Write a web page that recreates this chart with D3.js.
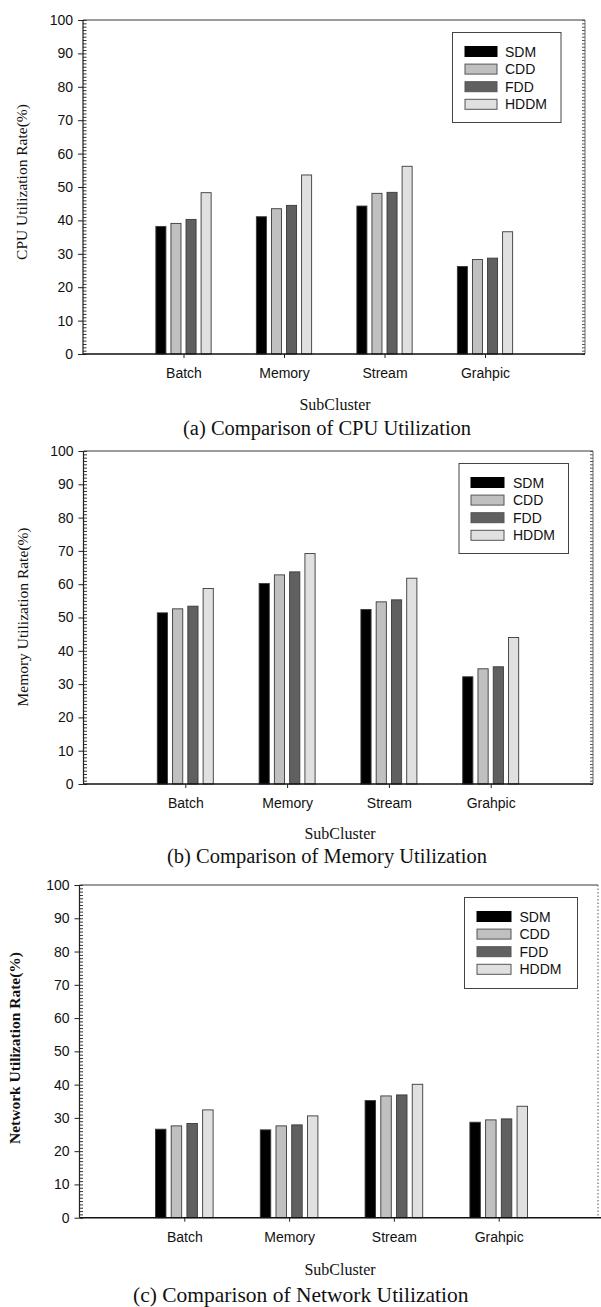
<!DOCTYPE html>
<html>
<head>
<meta charset="utf-8">
<script src="https://cdn.jsdelivr.net/npm/d3@7"></script>
<style>
  body { margin: 0; background: #fff; }
  svg { display: block; }
  .tick text { font-family: "Liberation Sans", Arial, sans-serif; font-size: 14px; fill: #111; }
  .serif { font-family: "Liberation Serif", "Times New Roman", serif; fill: #111; }
  .sans { font-family: "Liberation Sans", Arial, sans-serif; fill: #111; }
</style>
</head>
<body>
<svg id="chart" width="601" height="1307"></svg>
<script>
// data
const categories = ["Batch", "Memory", "Stream", "Grahpic"];
const methods = ["SDM", "CDD", "FDD", "HDDM"];
const methodColors = ["#000000", "#c0c0c0", "#606060", "#e0e0e0"];
const yTicks = [0, 10, 20, 30, 40, 50, 60, 70, 80, 90, 100];

const cpuSDM = [38.2, 41.1, 44.3, 26.2];
const cpuCDD = [39.1, 43.5, 48.1, 28.3];
const cpuFDD = [40.3, 44.5, 48.4, 28.7];
const cpuHDDM = [48.3, 53.6, 56.2, 36.6];

const memSDM = [51.4, 60.2, 52.4, 32.2];
const memCDD = [52.6, 62.8, 54.7, 34.6];
const memFDD = [53.4, 63.7, 55.3, 35.2];
const memHDDM = [58.7, 69.2, 61.8, 44.0];

const netSDM = [26.6, 26.4, 35.2, 28.7];
const netCDD = [27.6, 27.6, 36.6, 29.4];
const netFDD = [28.3, 27.9, 36.9, 29.7];
const netHDDM = [32.4, 30.6, 40.1, 33.5];

const svg = d3.select("#chart");

function drawPanel(cfg) {
  const g = svg.append("g");
  const y = d3.scaleLinear().domain([0, 100]).range([cfg.bottom, cfg.top]);
  const x = d3.scaleLinear().domain([0, 5]).range([cfg.left, cfg.left + 5 * cfg.step]);
  const sub = d3.scaleBand().domain(methods)
    .range([-0.275 * cfg.step, 0.275 * cfg.step]).paddingInner(1 / 3);

  // frame: top line, right side
  g.append("line")
    .attr("x1", cfg.left).attr("x2", cfg.right)
    .attr("y1", y(100)).attr("y2", y(100))
    .attr("stroke", "#7a7a7a").attr("stroke-width", 1.5);

  if (cfg.dottedRight) {
    g.append("line")
      .attr("x1", cfg.right).attr("x2", cfg.right)
      .attr("y1", y(100)).attr("y2", y(0))
      .attr("stroke", "#555").attr("stroke-width", 1)
      .attr("stroke-dasharray", "1.5,2");
  } else {
    g.append("line")
      .attr("x1", cfg.right).attr("x2", cfg.right)
      .attr("y1", y(100)).attr("y2", y(0))
      .attr("stroke", "#666").attr("stroke-width", 1);
    const rightMinor = g.append("g")
      .attr("transform", `translate(${cfg.right},0)`)
      .call(d3.axisLeft(y).ticks(100).tickSize(3).tickFormat(""));
    rightMinor.select(".domain").remove();
    rightMinor.selectAll("line").attr("stroke", "#555");
  }

  // bars
  const seriesRows = cfg.series;
  methods.forEach((m, mi) => {
    g.append("g").selectAll("rect")
      .data(seriesRows[mi])
      .join("rect")
      .attr("x", (d, ci) => x(ci + 1) + sub(m))
      .attr("y", d => y(d))
      .attr("width", sub.bandwidth())
      .attr("height", d => y(0) - y(d))
      .attr("fill", methodColors[mi])
      .attr("stroke", "#3a3a3a")
      .attr("stroke-width", 0.9);
  });

  // left axis: major ticks outside, minor inside
  const yAxis = g.append("g")
    .attr("transform", `translate(${cfg.left},0)`)
    .call(d3.axisLeft(y).tickValues(yTicks).tickSize(5).tickPadding(5));
  yAxis.select(".domain").remove();
  yAxis.selectAll("line").attr("stroke", "#222");

  const yMinor = g.append("g")
    .attr("transform", `translate(${cfg.left},0)`)
    .call(d3.axisRight(y).ticks(100).tickSize(3.5).tickFormat(""));
  yMinor.select(".domain").remove();
  yMinor.selectAll("line").attr("stroke", "#333");

  g.append("line")
    .attr("x1", cfg.left).attr("x2", cfg.left)
    .attr("y1", y(100)).attr("y2", y(0))
    .attr("stroke", "#222").attr("stroke-width", 1.2);

  // bottom axis
  const xAxis = g.append("g")
    .attr("transform", `translate(0,${y(0)})`)
    .call(d3.axisBottom(x).tickValues([1, 2, 3, 4])
      .tickFormat(d => categories[d - 1]).tickSize(4).tickPadding(10));
  xAxis.select(".domain").remove();
  xAxis.selectAll("line").attr("stroke", "#222");

  g.append("line")
    .attr("x1", cfg.left).attr("x2", cfg.axisEnd)
    .attr("y1", y(0)).attr("y2", y(0))
    .attr("stroke", "#111").attr("stroke-width", 1.5);

  // y title
  g.append("text")
    .attr("class", "serif")
    .attr("transform", `translate(${cfg.yTitleX},${cfg.yTitleY}) rotate(-90)`)
    .attr("text-anchor", "middle")
    .attr("dy", "0.35em")
    .style("font-size", cfg.yTitleSize + "px")
    .style("font-weight", cfg.boldTitle ? "bold" : "normal")
    .text(cfg.yTitle);

  // x title + caption
  g.append("text")
    .attr("class", "serif")
    .attr("x", cfg.subX).attr("y", cfg.subY)
    .attr("text-anchor", "middle")
    .style("font-size", "16px")
    .text("SubCluster");

  g.append("text")
    .attr("class", "serif")
    .attr("x", cfg.capX).attr("y", cfg.capY)
    .style("font-size", cfg.capSize + "px")
    .text(cfg.caption);

  // legend
  const lg = cfg.legend;
  g.append("rect")
    .attr("x", lg.x).attr("y", lg.y)
    .attr("width", lg.w).attr("height", lg.h)
    .attr("fill", "#fff").attr("stroke", "#444").attr("stroke-width", 1);

  methods.forEach((m, i) => {
    const cy = lg.y + 19 + i * 17.6;
    g.append("rect")
      .attr("x", lg.sx).attr("y", cy - 5)
      .attr("width", lg.sw).attr("height", 10)
      .attr("fill", methodColors[i])
      .attr("stroke", i === 0 ? "#000" : "#555")
      .attr("stroke-width", 1);
    g.append("text")
      .attr("class", "sans")
      .attr("x", lg.tx).attr("y", cy)
      .attr("dy", "0.36em")
      .style("font-size", "14px")
      .text(m);
  });
}

drawPanel({
  top: 20, bottom: 354, left: 83, right: 585, step: 100.5, axisEnd: 585,
  series: [cpuSDM, cpuCDD, cpuFDD, cpuHDDM],
  yTitle: "CPU Utilization Rate(%)", yTitleX: 22, yTitleY: 182, yTitleSize: 15.5,
  subX: 335, subY: 410, caption: "(a) Comparison of CPU Utilization",
  capX: 183, capY: 435, capSize: 20.5,
  legend: { x: 452.5, y: 32.5, w: 108.5, h: 90, sx: 465, sw: 32, tx: 505 }
});

drawPanel({
  top: 451, bottom: 784, left: 83.5, right: 593, step: 101.8, axisEnd: 593,
  series: [memSDM, memCDD, memFDD, memHDDM],
  yTitle: "Memory Utilization Rate(%)", yTitleX: 23, yTitleY: 617, yTitleSize: 15.5,
  subX: 340, subY: 839, caption: "(b) Comparison of Memory Utilization",
  capX: 167, capY: 863, capSize: 20.5,
  legend: { x: 459, y: 463.5, w: 109.5, h: 90, sx: 471, sw: 33, tx: 513 }
});

drawPanel({
  top: 885, bottom: 1217.7, left: 79.5, right: 598, step: 104.8, axisEnd: 601,
  dottedRight: true, boldTitle: true,
  series: [netSDM, netCDD, netFDD, netHDDM],
  yTitle: "Network Utilization Rate(%)", yTitleX: 15, yTitleY: 1048, yTitleSize: 15.5,
  subX: 340, subY: 1275, caption: "(c) Comparison of Network Utilization",
  capX: 133, capY: 1302, capSize: 21.5,
  legend: { x: 464.5, y: 897.5, w: 113, h: 91, sx: 477, sw: 34, tx: 519.5 }
});
</script>
</body>
</html>
